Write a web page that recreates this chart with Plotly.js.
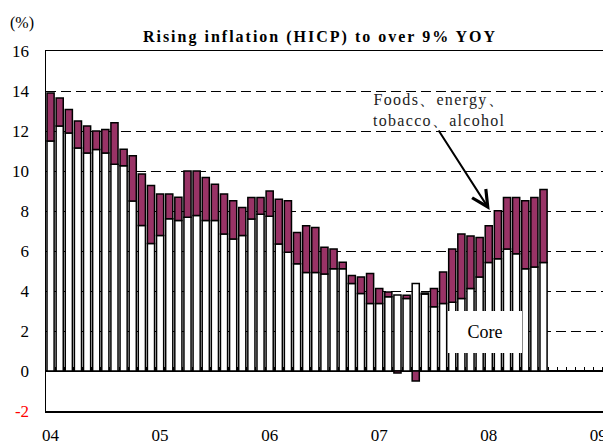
<!DOCTYPE html>
<html>
<head>
<meta charset="utf-8">
<script src="https://cdn.plot.ly/plotly-3.0.1.min.js"></script>
<style>
  html, body { margin: 0; padding: 0; overflow: hidden; background: #fff; }
  #chart { width: 650px; height: 446px; }
  .gtitle { letter-spacing: 2px; }
  g.annotation[data-index="1"] text { letter-spacing: 1.3px; }
</style>
</head>
<body>
<div id="chart"></div>
<script>
// Monthly HICP, Jan 2004 .. Jul 2008 (55 months)
const months = [];
for (let y = 2004; y <= 2008; y++) {
  for (let m = 1; m <= 12; m++) {
    if (y === 2008 && m > 7) break;
    months.push(y + '-' + String(m).padStart(2, '0'));
  }
}

// Core component (%)
const core = [
  11.5, 12.25, 11.9, 11.15, 10.9, 11.07, 10.9, 10.34, 10.26, 8.5, 7.28, 6.37,
  6.78, 7.61, 7.53, 7.69, 7.78, 7.52, 7.52, 6.85, 6.6, 6.77, 7.6, 7.84,
  7.74, 6.35, 5.94, 5.36, 4.93, 4.93, 4.85, 5.11, 5.11, 4.37, 3.87, 3.38,
  3.38, 3.71, 3.8, 3.62, 4.37, 3.85, 3.21, 3.38, 3.44, 3.62, 4.12, 4.7,
  5.43, 5.61, 6.1, 5.86, 5.11, 5.2, 5.43
];

// Foods, energy, tobacco, alcohol component (%)
const foods = [
  2.4, 1.4, 1.17, 1.35, 1.35, 0.93, 1.18, 2.07, 0.83, 2.26, 2.57, 2.9,
  2.07, 1.24, 1.16, 2.31, 2.22, 2.15, 1.82, 2.0, 1.91, 1.4, 1.07, 0.83,
  1.26, 2.24, 2.57, 1.57, 2.33, 2.25, 1.34, 0.99, 0.33, 0.41, 0.83, 1.49,
  0.74, 0.24, -0.1, 0.17, -0.5, 0.05, 0.91, 1.57, 2.66, 3.23, 2.63, 1.97,
  1.83, 2.4, 2.57, 2.81, 3.4, 3.47, 3.65
];

const yearTickPos = [0, 12, 24, 36, 48, 60];
const yearTickText = ['04', '05', '06', '07', '08', '09'];
const yTickVals = [-2, 0, 2, 4, 6, 8, 10, 12, 14, 16];
const yTickText = ['<span style="color:#ff0000">-2</span>', '0', '2', '4', '6', '8', '10', '12', '14', '16'];

const xIdx = months.map((m, i) => i);
// month boundaries for small tick marks on the zero line
const boundaries = [];
for (let i = -1; i <= 61; i++) boundaries.push(i + 0.5);

const serif = 'Liberation Serif, Times New Roman, serif';

const traces = [
  {
    type: 'bar', name: 'Core', x: xIdx, y: core,
    marker: { color: '#ffffff', line: { color: '#000000', width: 1.5 } },
    hoverinfo: 'skip'
  },
  {
    type: 'bar', name: 'Foods, energy, tobacco, alcohol', x: xIdx, y: foods,
    marker: { color: '#993366', line: { color: '#000000', width: 1.5 } },
    hoverinfo: 'skip'
  },
  {
    type: 'scatter', x: [], y: [], xaxis: 'x2', yaxis: 'y', showlegend: false, hoverinfo: 'skip'
  }
];

const layout = {
  width: 650, height: 446,
  margin: { l: 46, r: 38, t: 51, b: 35, pad: 0 },
  paper_bgcolor: '#ffffff', plot_bgcolor: '#ffffff',
  barmode: 'relative', bargap: 0.22,
  showlegend: false,
  font: { family: serif, color: '#000000' },
  title: {
    text: 'Rising inflation (HICP) to over 9% YOY',
    font: { family: serif, size: 16, weight: 'bold', color: '#000000' },
    xref: 'container', x: 320 / 650, xanchor: 'center',
    yref: 'container', y: 1 - 36 / 446, yanchor: 'middle'
  },
  xaxis: {
    range: [-0.5, 61.5],
    tickmode: 'array', tickvals: yearTickPos, ticktext: yearTickText,
    ticks: '', ticklabelstandoff: 8,
    tickfont: { family: serif, size: 17, color: '#000000' },
    showgrid: false, zeroline: false,
    showline: true, mirror: true, linecolor: '#000000', linewidth: 1.5
  },
  xaxis2: {
    overlaying: 'x', matches: 'x', anchor: 'free', position: 2 / 18,
    range: [-0.5, 61.5],
    tickmode: 'array', tickvals: boundaries,
    ticks: 'inside', ticklen: 4, tickwidth: 1, tickcolor: '#000000',
    showticklabels: false, showgrid: false, zeroline: false, showline: false,
    layer: 'below traces'
  },
  yaxis: {
    range: [-2, 16],
    tickmode: 'array', tickvals: yTickVals, ticktext: yTickText,
    ticks: '', ticklabelstandoff: 12,
    tickfont: { family: serif, size: 17, color: '#000000' },
    showgrid: true, gridcolor: '#000000', gridwidth: 1, griddash: '10px,5px',
    zeroline: true, zerolinecolor: '#000000', zerolinewidth: 1.5,
    showline: true, mirror: true, linecolor: '#000000', linewidth: 1.5
  },
  annotations: [
    {
      text: '(%)', xref: 'paper', yref: 'paper',
      x: (22 - 46) / 566, y: (411 - 23) / 360, xanchor: 'center', yanchor: 'middle',
      showarrow: false, font: { family: serif, size: 16, color: '#000000' }
    },
    {
      text: 'Foods、energy、<br>tobacco、alcohol', xref: 'x', yref: 'y',
      x: 42.5, y: 13.07, xanchor: 'center', yanchor: 'middle', align: 'center',
      showarrow: false, font: { family: serif, size: 16, color: '#222222' }
    },
    {
      text: '', xref: 'x', yref: 'y', x: 48.1, y: 8.05,
      showarrow: true, ax: -52, ay: -81, arrowhead: 5, arrowsize: 1.6,
      arrowwidth: 2, arrowcolor: '#000000'
    },
    {
      text: 'Core', xref: 'x', yref: 'y', x: 47.6, y: 1.95,
      xanchor: 'center', yanchor: 'middle', showarrow: false,
      width: 70, height: 38, bgcolor: '#ffffff', borderwidth: 0, borderpad: 2,
      font: { family: serif, size: 18, color: '#000000' }
    }
  ]
};

Plotly.newPlot('chart', traces, layout, { displayModeBar: false, staticPlot: true });
</script>
</body>
</html>
